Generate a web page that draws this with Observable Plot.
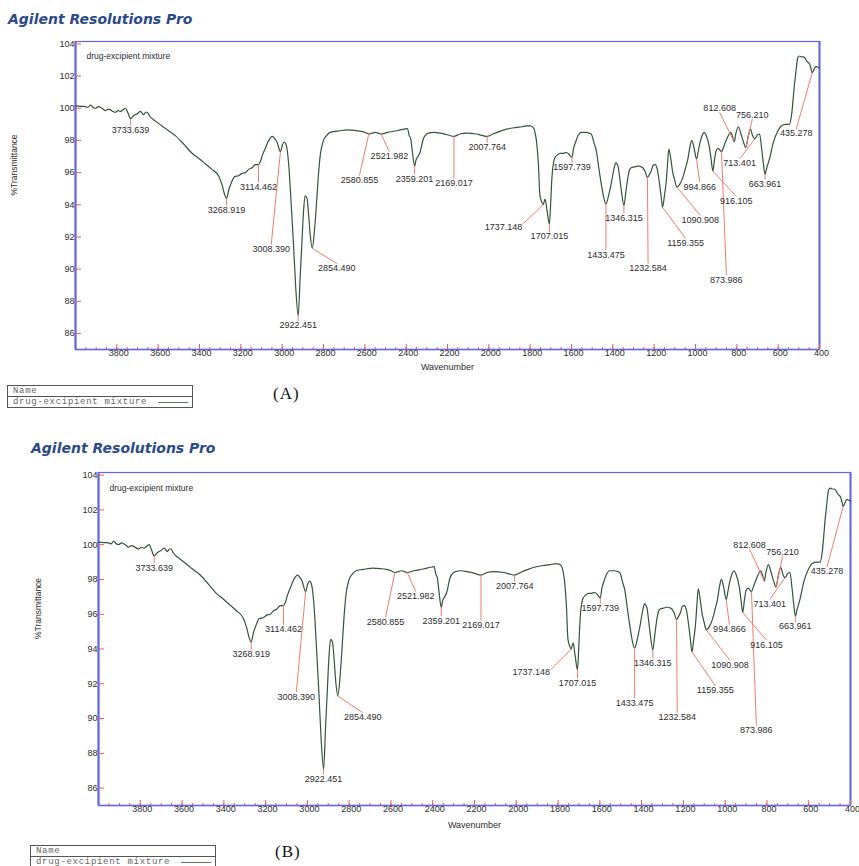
<!DOCTYPE html>
<html><head><meta charset="utf-8">
<script src="https://cdn.jsdelivr.net/npm/d3@7"></script>
<script src="https://cdn.jsdelivr.net/npm/@observablehq/plot@0.6"></script>
<style>
body{margin:0;background:#fff;}
#root{position:relative;width:859px;height:866px;overflow:hidden;background:#fff;}
.title{position:absolute;font-family:"DejaVu Sans",sans-serif;font-weight:bold;font-style:italic;font-size:14px;line-height:14px;color:#2b4a8b;white-space:nowrap;}
.panel{position:absolute;left:0;}
.legend{position:absolute;border:1px solid #555;font-family:"Liberation Mono",monospace;font-size:9px;color:#666;letter-spacing:0.7px;background:#fff;}
.legend .row{position:relative;height:10px;line-height:10px;padding-left:5px;white-space:nowrap;}
.legend .row+.row{border-top:1px solid #555;}
.legend .sw{position:absolute;right:4px;top:5px;width:30px;height:0;border-top:1.5px solid #5d7d62;}
.tag{position:absolute;font-family:"Liberation Serif",serif;font-size:17px;color:#111;letter-spacing:1px;}
</style></head>
<body><div id="root"></div>
<script>
// ---- data ----
const seriesName = "drug-excipient mixture";
const wavenumber = [4000,3975,3951,3940,3927,3915,3903,3890,3879,3867,3855,3843,3831,3819,3807,3795,3782,3770,3758,3746,3733.639,3718,3702,3686,3670,3661,3653,3643,3633,3613,3581,3550,3517,3475,3436,3400,3372,3340,3308,3290,3280,3268.919,3258,3245,3230,3211,3195,3178,3162,3146,3130,3114.462,3105,3095,3082,3065,3047,3035,3025,3008.390,2998,2989,2980,2969,2957,2945,2935,2922.451,2913,2905,2897,2889,2880,2872,2864,2854.490,2845,2837,2826,2816,2800,2785,2768,2720,2687,2650,2623,2600,2580.855,2565,2550,2535,2521.982,2490,2445,2410,2394,2385,2378,2370,2359.201,2352,2346,2333,2317,2300,2292,2265,2236,2200,2169.017,2140,2107,2060,2030,2007.764,1980,1950,1914,1870,1840,1817,1800,1785,1775,1769,1760,1753,1745,1737.148,1728,1718,1707.015,1700,1694,1681,1668,1656,1640,1624,1610,1597.739,1590,1580,1568,1553,1530,1505,1490,1480,1468,1456,1445,1433.475,1420,1408,1395,1386,1375,1367,1358,1346.315,1337,1327,1318,1311,1295,1280,1271,1262,1255,1245,1232.584,1222,1214,1205,1195,1185,1174,1166,1159.355,1150,1142,1135,1129,1120,1110,1100,1090.908,1075,1061,1048,1037,1027,1018,1008,994.866,987,981,968,958,948,933,925,916.105,908,900,890,882,873.986,864,855,845,830,820,812.608,805,793,780,768,756.210,746,734,724,713.401,700,690,680,672,663.961,655,641,625,601,585,565,545,535,521,513,505,496,488,478,472,460,448,440,435.278,425,417,408,400];
const transmittance = [100.15,100.12,100.1,100.05,100.2,100.05,100.0,100.1,100.05,99.95,99.85,99.95,99.9,99.8,99.75,99.85,99.8,99.9,100.0,99.7,99.35,99.55,99.65,99.8,99.6,99.75,99.75,99.55,99.4,99.2,98.9,98.6,98.3,97.75,97.2,96.85,96.55,96.2,95.8,95.2,94.7,94.4,94.95,95.4,95.75,95.8,95.95,96.0,96.2,96.3,96.5,96.5,96.7,97.1,97.5,98.0,98.25,98.1,97.9,97.3,97.75,97.9,97.7,96.6,94.2,91.5,89.0,87.1,89.5,91.5,93.5,94.55,94.4,93.4,92.1,91.3,92.2,93.5,95.6,97.05,98.0,98.3,98.5,98.6,98.65,98.62,98.58,98.5,98.4,98.45,98.5,98.45,98.4,98.5,98.6,98.7,98.74,98.3,98.1,97.3,96.4,96.8,96.94,97.25,98.1,98.4,98.45,98.5,98.45,98.35,98.25,98.4,98.45,98.4,98.3,98.25,98.4,98.55,98.7,98.8,98.85,98.9,98.9,98.8,98.4,97.9,96.5,94.6,94.2,94.0,94.35,93.6,92.8,94.3,95.8,96.9,97.1,97.2,97.2,97.25,97.1,96.94,97.5,97.9,98.3,98.5,98.5,98.4,97.8,97.36,96.3,95.3,94.5,94.05,94.6,95.3,96.2,96.6,96.4,95.7,94.8,93.95,94.8,95.7,96.2,96.3,96.35,96.4,96.4,96.35,96.3,96.1,95.7,95.9,96.1,96.45,96.5,96.2,95.3,94.5,93.84,94.6,95.4,96.6,97.46,96.9,96.0,95.5,95.1,95.3,95.7,96.3,96.84,97.6,98.0,97.6,96.84,97.3,97.7,98.3,98.5,98.3,97.6,96.9,96.1,96.8,97.36,97.5,97.4,97.3,97.6,97.9,98.2,98.5,98.2,97.9,98.4,98.85,98.4,97.9,97.56,98.2,98.7,98.3,98.1,98.35,98.4,97.5,96.6,95.9,96.3,96.9,97.8,98.6,98.9,99.0,99.0,99.6,101.5,102.4,103.15,103.25,103.2,103.2,103.15,102.9,102.75,102.4,102.2,102.45,102.6,102.55,102.5];

// labelled peaks, with the point where each leader line ends
const peakWn = [3733.639,3268.919,3114.462,3008.390,2922.451,2854.490,2580.855,2521.982,2359.201,2169.017,2007.764,1737.148,1707.015,1597.739,1433.475,1346.315,1232.584,1159.355,1090.908,994.866,916.105,873.986,812.608,756.210,713.401,663.961,435.278];
const labelEndWn = [3733.6,3268.9,3114.5,3052.9,2922.5,2735.4,2626,2481.2,2359.2,2169.0,2007.8,1833.7,1707.0,1597.7,1433.5,1346.3,1229.6,1047.5,976.5,979.8,802.5,850.8,883.2,725.1,786.5,664.0,512.5];
const labelEndT = [98.92,93.95,95.38,91.52,86.77,90.34,95.82,97.3,95.88,95.63,97.86,92.82,92.3,96.6,91.17,93.46,90.34,91.89,93.34,95.4,94.51,89.62,99.74,99.33,96.85,95.55,98.71];
const labelPlace = ["below","below","below","below","below","below","below","below","below","below","below","left","below","below","below","below","below","below","below","below","below","below","above","above","below","below","below"];

const xTicks = [3800,3600,3400,3200,3000,2800,2600,2400,2200,2000,1800,1600,1400,1200,1000,800,600,400];
const yTicks = [86,88,90,92,94,96,98,100,102,104];
const xMinorTicks = d3.range(3950, 399, -50);

// ---- build ----
const spectrum = wavenumber.map((w, i) => ({w, t: transmittance[i]}));
function tAt(w) {
  for (let i = 0; i < wavenumber.length - 1; i++) {
    const a = wavenumber[i], b = wavenumber[i + 1];
    if (w <= a && w >= b) {
      const f = (a - w) / (a - b);
      return transmittance[i] + f * (transmittance[i + 1] - transmittance[i]);
    }
  }
  return transmittance[transmittance.length - 1];
}
const peaks = peakWn.map((w, i) => ({
  w, t: tAt(w), label: w.toFixed(3), ex: labelEndWn[i], ey: labelEndT[i], place: labelPlace[i]
}));

const RED = "#ef5a4c", BLUE = "#6565e2", INK = "#2d2d2d";

function panel(p) {
  return Plot.plot({
    width: 859, height: p.height,
    marginTop: p.mt, marginBottom: p.mb, marginLeft: p.ml, marginRight: p.mr,
    x: {domain: [4000, 400]},
    y: {domain: [85, 104.15]},
    style: {background: "transparent", fontFamily: "'Liberation Sans', Arial, sans-serif", fontSize: "9px", color: INK},
    marks: [
      Plot.frame({stroke: BLUE, strokeWidth: 1.2}),
      Plot.ruleX([4000], {stroke: BLUE, strokeWidth: 2.2}),
      Plot.ruleX([400], {stroke: BLUE, strokeWidth: 2}),
      Plot.ruleY([85], {stroke: BLUE, strokeWidth: 1.4}),
      Plot.axisY({anchor: "left", ticks: yTicks, tickSize: 6, dx: 6, tickFormat: () => "", stroke: RED, label: null}),
      Plot.axisY({anchor: "left", ticks: yTicks, tickSize: 0, tickPadding: 1, label: null, fill: INK}),
      Plot.axisX({anchor: "bottom", ticks: xMinorTicks, tickSize: 2, dy: -2, tickFormat: () => "", stroke: RED, label: null}),
      Plot.axisX({anchor: "bottom", ticks: xTicks, tickSize: 5, dy: -5, tickFormat: () => "", stroke: RED, label: null}),
      Plot.axisX({anchor: "bottom", ticks: xTicks, tickSize: 0, tickPadding: 0, dx: 2, label: null, fill: INK, tickFormat: d => String(d)}),
      Plot.line(spectrum, {x: "w", y: "t", stroke: "#35533d", strokeWidth: 1.2, curve: "monotone-x"}),
      Plot.link(peaks, {x1: "w", y1: "t", x2: "ex", y2: "ey", stroke: "#f27c6e", strokeWidth: 1}),
      Plot.text(peaks.filter(d => d.place === "below"), {x: "ex", y: "ey", text: "label", lineAnchor: "top", dy: 1, fill: INK}),
      Plot.text(peaks.filter(d => d.place === "above"), {x: "ex", y: "ey", text: "label", lineAnchor: "bottom", dy: -1, fill: INK}),
      Plot.text(peaks.filter(d => d.place === "left"), {x: "ex", y: "ey", text: "label", textAnchor: "end", lineAnchor: "middle", dy: 3, dx: -1, fill: INK}),
      Plot.text([seriesName], {frameAnchor: "top-left", textAnchor: "start", dx: p.nameDx, dy: p.nameDy, fill: INK, fontSize: 8.5}),
      Plot.text(["Wavenumber"], {frameAnchor: "bottom", dy: p.xlabDy, fill: INK}),
      Plot.text(["%Transmittance"], {frameAnchor: "left", dx: p.ylabDx, rotate: -90, fill: INK, fontSize: 8.5})
    ]
  });
}

const root = document.getElementById("root");
function add(el, css) { Object.assign(el.style, css); root.appendChild(el); return el; }

function addPanel(top, p, title, tLeft, tTop, legLeft, legTop, tag, tagLeft, tagTop) {
  const t = document.createElement("div");
  t.className = "title"; t.textContent = title;
  add(t, {left: tLeft + "px", top: tTop + "px"});
  const wrap = document.createElement("div");
  wrap.className = "panel";
  wrap.appendChild(panel(p));
  add(wrap, {top: top + "px"});
  const leg = document.createElement("div");
  leg.className = "legend";
  leg.innerHTML = '<div class="row">Name</div><div class="row">' + seriesName + '<span class="sw"></span></div>';
  add(leg, {left: legLeft + "px", top: legTop + "px", width: "184px"});
  const g = document.createElement("div");
  g.className = "tag"; g.textContent = tag;
  add(g, {left: tagLeft + "px", top: tagTop + "px"});
}

addPanel(0, {height: 380, mt: 41, mb: 31, ml: 75, mr: 40, nameDx: 11, nameDy: 11, xlabDy: 20, ylabDx: -61},
  "Agilent Resolutions Pro", 8, 12, 7, 385, "(A)", 273, 384);
addPanel(430, {height: 436, mt: 42, mb: 61, ml: 98, mr: 9, nameDx: 11, nameDy: 12, xlabDy: 22, ylabDx: -60},
  "Agilent Resolutions Pro", 31, 441, 30, 845, "(B)", 275, 842);
</script></body></html>
